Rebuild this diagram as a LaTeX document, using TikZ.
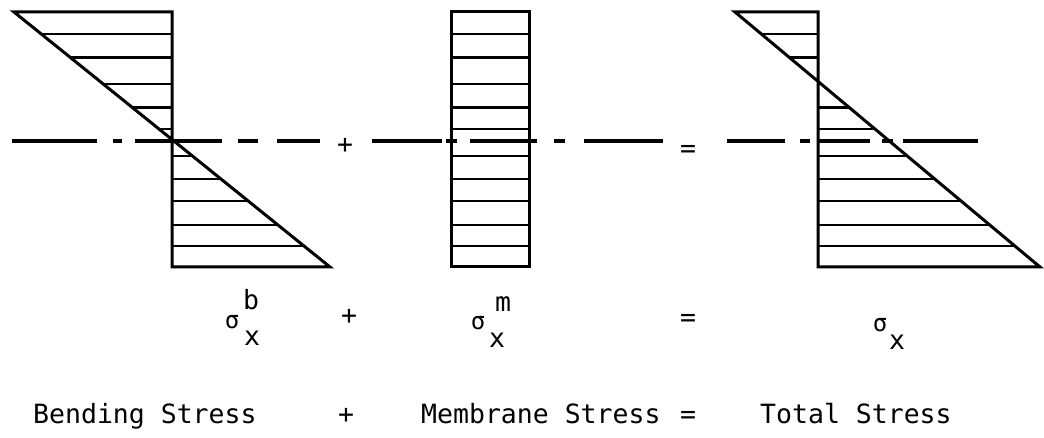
\documentclass[tikz,border=0pt]{standalone}
\usepackage{fontspec}
\usetikzlibrary{calc}
\newfontfamily\printerfont{DejaVu Sans Mono}

\begin{document}
\begin{tikzpicture}[
    x=1pt, y=-1pt,
    font=\printerfont\fontsize{26.5}{30}\selectfont,
    outline/.style={line width=3pt, line join=miter},
    hatch/.style={line width=2.8pt},
    centre/.style={line width=3.4pt},
    word/.style={inner sep=0pt, anchor=base west},
    sym/.style={inner sep=0pt},
    greek/.style={sym, font=\printerfont\fontsize{24}{28}\selectfont}
]
\useasboundingbox (0,0) rectangle (1044,438);

% --- corners of the three blocks ---
\coordinate (bTop) at (14,12);
\coordinate (bBot) at (330,267);
\coordinate (bV) at (172,0);
\coordinate (mTL) at (451,12);
\coordinate (mBR) at (529,267);
\coordinate (tTop) at (735,12);
\coordinate (tBot) at (1040,267);
\coordinate (tV) at (818,0);

% --- Left: bending stress ---
\draw[outline] (bTop) -- (bTop -| bV) -- (bBot -| bV) -- (bBot) -- cycle;
\foreach \t in {0,.086,.180,.282,.376,.459,.565,.655,.741,.835,.918,1} {
    \path ($(bTop)!\t!(bBot)$) coordinate (h);
    \draw[hatch] (h) -- (h -| bV);
}

% --- Middle: membrane stress ---
\draw[outline] (mTL) rectangle (mBR);
\foreach \t in {0,.086,.180,.282,.376,.459,.565,.655,.741,.835,.918,1} {
    \path ($(mTL)!\t!(mTL |- mBR)$) coordinate (h);
    \draw[hatch] (h) -- (h -| mBR);
}

% --- Right: total stress ---
\draw[outline] (tTop) -- (tTop -| tV) -- (tBot -| tV) -- (tBot) -- cycle;
\foreach \t in {0,.086,.180,.282,.376,.459,.565,.655,.741,.835,.918,1} {
    \path ($(tTop)!\t!(tBot)$) coordinate (h);
    \draw[hatch] (h) -- (h -| tV);
}

% --- centre line ---
\coordinate (c1a) at (12,141);
\coordinate (c1b) at (320,141);
\coordinate (c2a) at (372,141);
\coordinate (c2b) at (663,141);
\coordinate (c3a) at (727,141);
\coordinate (c3b) at (978,141);
\draw[centre, dash pattern=on 85pt off 16pt on 9pt off 13pt on 87pt off 16pt on 20pt off 19pt on 43pt off 50pt] (c1a) -- (c1b);
\draw[centre, dash pattern=on 70pt off 4pt on 11pt off 13pt on 67pt off 17pt on 11pt off 19pt on 79pt off 50pt] (c2a) -- (c2b);
\draw[centre, dash pattern=on 58pt off 15pt on 10pt off 7pt on 53pt off 12pt on 11pt off 10pt on 75pt off 50pt] (c3a) -- (c3b);
\node[sym] (plusC) at (345,146) {+};
\node[sym] (eqC) at (688,151) {=};

% --- symbols ---
\node[greek] (sigB) at (232,322) {σ};
\node[sym] (supB) at (251,300) {b};
\node[sym] (subB) at (252,338) {x};
\node[sym] (plusS) at (349,317) {+};
\node[greek] (sigM) at (478,323) {σ};
\node[sym] (supM) at (503,304) {m};
\node[sym] (subM) at (497,340) {x};
\node[sym] (eqS) at (688,320) {=};
\node[greek] (sigT) at (880,325) {σ};
\node[sym] (subT) at (897,342) {x};

% --- captions ---
\node[word] (bend) at (33,423) {Bending Stress};
\node[sym, anchor=base] (plusW) at (346,423) {+};
\node[word] (memb) at (421,423) {Membrane Stress};
\node[sym, anchor=base] (eqW) at (688,423) {=};
\node[word] (total) at (760,423) {Total Stress};

\end{tikzpicture}
\end{document}
